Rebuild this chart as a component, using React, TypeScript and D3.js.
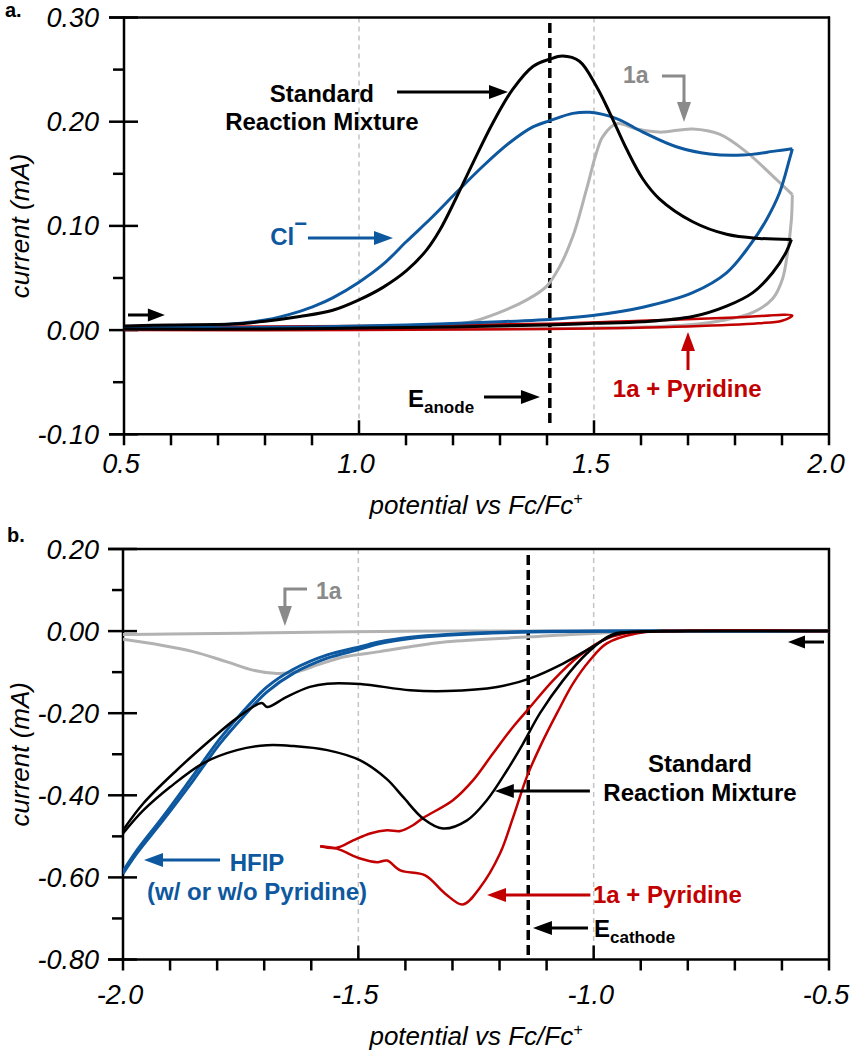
import React from "react";
import * as d3 from "d3";

// ---------- Panel a data (potential V vs Fc/Fc+, current mA) ----------
const aXTicks = [0.5, 1.0, 1.5, 2.0];
const aXMinor = [0.6, 0.7, 0.8, 0.9, 1.1, 1.2, 1.3, 1.4, 1.6, 1.7, 1.8, 1.9];
const aYTicks = [-0.1, 0.0, 0.1, 0.2, 0.3];
const aYMinor = [-0.05, 0.05, 0.15, 0.25];
const aXLabels = ["0.5", "1.0", "1.5", "2.0"];
const aYLabels = ["-0.10", "0.00", "0.10", "0.20", "0.30"];

const aStdFwd: [number, number][] = [[0.5,0.004],[0.6,0.005],[0.73,0.0058],[0.8,0.0085],[0.874,0.013],[0.944,0.019],[1.0,0.029],[1.051,0.041],[1.101,0.057],[1.144,0.077],[1.172,0.096],[1.207,0.127],[1.242,0.160],[1.285,0.199],[1.327,0.231],[1.370,0.253],[1.406,0.260],[1.433,0.263],[1.469,0.258],[1.505,0.234],[1.533,0.209],[1.569,0.174],[1.604,0.145],[1.639,0.126],[1.710,0.104],[1.782,0.092],[1.852,0.088],[1.92,0.087]];
const aStdRev: [number, number][] = [[1.92,0.087],[1.909,0.075],[1.880,0.055],[1.838,0.036],[1.782,0.023],[1.710,0.013],[1.604,0.008],[1.5,0.0065],[1.4,0.005],[1.2,0.003],[1.0,0.002],[0.8,0.001],[0.5,0.001]];
const aClFwd: [number, number][] = [[0.5,0.002],[0.6,0.003],[0.7,0.005],[0.8,0.0096],[0.874,0.018],[0.91,0.024],[0.944,0.031],[1.0,0.046],[1.051,0.063],[1.101,0.085],[1.157,0.109],[1.207,0.132],[1.263,0.157],[1.321,0.180],[1.370,0.195],[1.406,0.201],[1.455,0.208],[1.491,0.209],[1.548,0.203],[1.604,0.190],[1.675,0.176],[1.746,0.169],[1.816,0.168],[1.888,0.172],[1.922,0.174]];
const aClRev: [number, number][] = [[1.922,0.174],[1.916,0.164],[1.895,0.132],[1.867,0.106],[1.831,0.081],[1.782,0.055],[1.710,0.036],[1.604,0.022],[1.497,0.014],[1.427,0.011],[1.3,0.008],[1.1,0.005],[0.9,0.003],[0.7,0.002],[0.5,0.001]];
const a1aFwd: [number, number][] = [[0.5,0.002],[0.8,0.002],[1.0,0.002],[1.1,0.003],[1.229,0.007],[1.299,0.017],[1.357,0.029],[1.399,0.042],[1.427,0.061],[1.455,0.090],[1.484,0.135],[1.505,0.170],[1.519,0.186],[1.548,0.198],[1.591,0.193],[1.639,0.190],[1.710,0.193],[1.767,0.188],[1.824,0.171],[1.880,0.148],[1.922,0.130]];
const a1aRev: [number, number][] = [[1.922,0.130],[1.920,0.106],[1.912,0.075],[1.901,0.049],[1.880,0.030],[1.838,0.017],[1.782,0.010],[1.697,0.005],[1.5,0.002],[1.0,0.001],[0.5,0.001]];
const aPyrLoop: [number, number][] = [[0.5,0.003],[1.0,0.004],[1.4,0.006],[1.6,0.009],[1.8,0.012],[1.922,0.014],[1.90,0.009],[1.85,0.0065],[1.7,0.0035],[1.4,0.001],[1.0,0.0],[0.5,0.0]];
const aAnode = 1.406;

// ---------- Panel b data ----------
const bXTicks = [-2.0, -1.5, -1.0, -0.5];
const bXMinor = [-1.9, -1.8, -1.7, -1.6, -1.4, -1.3, -1.2, -1.1, -0.9, -0.8, -0.7, -0.6];
const bYTicks = [-0.8, -0.6, -0.4, -0.2, 0.0, 0.2];
const bYMinor = [-0.7, -0.5, -0.3, -0.1, 0.1];
const bXLabels = ["-2.0", "-1.5", "-1.0", "-0.5"];
const bYLabels = ["-0.80", "-0.60", "-0.40", "-0.20", "0.00", "0.20"];

const bStdFwd: [number, number][] = [[-0.5,0],[-0.8,0],[-0.9,-0.002],[-0.96,-0.008],[-1.014,-0.054],[-1.065,-0.12],[-1.114,-0.2],[-1.150,-0.274],[-1.184,-0.339],[-1.227,-0.412],[-1.269,-0.461],[-1.320,-0.481],[-1.362,-0.457],[-1.405,-0.404],[-1.44,-0.36],[-1.496,-0.315],[-1.566,-0.29],[-1.638,-0.28],[-1.694,-0.278],[-1.758,-0.29],[-1.830,-0.322],[-1.900,-0.38],[-1.957,-0.437],[-2.0,-0.493]];
const bStdRev: [number, number][] = [[-2.0,-0.485],[-1.957,-0.42],[-1.886,-0.339],[-1.815,-0.266],[-1.758,-0.212],[-1.705,-0.175],[-1.694,-0.185],[-1.652,-0.16],[-1.603,-0.136],[-1.566,-0.128],[-1.496,-0.129],[-1.39,-0.144],[-1.312,-0.146],[-1.205,-0.136],[-1.135,-0.115],[-1.065,-0.079],[-1.008,-0.042],[-0.959,-0.01],[-0.9,-0.001],[-0.8,0],[-0.5,0]];
const bPyrFwd: [number, number][] = [[-0.5,0],[-0.85,0],[-0.91,-0.006],[-0.972,-0.03],[-1.008,-0.071],[-1.044,-0.128],[-1.078,-0.2],[-1.114,-0.282],[-1.142,-0.355],[-1.171,-0.453],[-1.199,-0.542],[-1.241,-0.624],[-1.278,-0.666],[-1.316,-0.639],[-1.358,-0.595],[-1.411,-0.583],[-1.439,-0.559],[-1.46,-0.563],[-1.496,-0.554],[-1.546,-0.53],[-1.581,-0.524]];
const bPyrRev: [number, number][] = [[-1.581,-0.524],[-1.546,-0.528],[-1.511,-0.51],[-1.475,-0.493],[-1.439,-0.485],[-1.411,-0.487],[-1.384,-0.473],[-1.362,-0.455],[-1.299,-0.412],[-1.256,-0.363],[-1.214,-0.298],[-1.171,-0.233],[-1.135,-0.185],[-1.086,-0.12],[-1.029,-0.059],[-0.972,-0.018],[-0.916,-0.003],[-0.85,0],[-0.5,0]];
const b1aFwd: [number, number][] = [[-0.5,0],[-0.85,0],[-0.993,-0.005],[-1.135,-0.014],[-1.312,-0.026],[-1.39,-0.038],[-1.454,-0.05],[-1.532,-0.063],[-1.588,-0.083],[-1.631,-0.099],[-1.673,-0.103],[-1.724,-0.095],[-1.779,-0.075],[-1.851,-0.05],[-1.921,-0.034],[-2.0,-0.02]];
const b1aRev: [number, number][] = [[-2.0,-0.008],[-1.9,-0.007],[-1.75,-0.005],[-1.6,-0.003],[-1.45,-0.001],[-1.3,0],[-0.5,0]];
const bHfipFwd: [number, number][] = [[-0.5,0],[-0.9,0],[-1.135,-0.002],[-1.312,-0.01],[-1.39,-0.018],[-1.454,-0.03],[-1.496,-0.044],[-1.566,-0.066],[-1.638,-0.103],[-1.694,-0.148],[-1.745,-0.209],[-1.794,-0.274],[-1.851,-0.364],[-1.915,-0.461],[-1.971,-0.542],[-2.0,-0.591]];
const bHfipRev: [number, number][] = [[-2.0,-0.585],[-1.971,-0.535],[-1.915,-0.452],[-1.851,-0.352],[-1.794,-0.262],[-1.745,-0.196],[-1.694,-0.136],[-1.638,-0.093],[-1.566,-0.058],[-1.496,-0.038],[-1.454,-0.026],[-1.39,-0.015],[-1.312,-0.008],[-1.135,-0.001],[-0.9,0],[-0.5,0]];
const bCathode = -1.139;

const BLACK = "#000";
const BLUE = "#0d589e";
const RED = "#c20000";
const GRAYLINE = "#b2b2b2";
const GRAYTXT = "#8a8a8a";
const FONT = "'Liberation Sans', Arial, Helvetica, sans-serif";

function Arrow({ x1, y1, x2, y2, color, w = 3, hl = 19, hw = 14 }: any) {
  const dx = x2 - x1, dy = y2 - y1;
  const L = Math.hypot(dx, dy);
  const ux = dx / L, uy = dy / L;
  const bx = x2 - ux * hl, by = y2 - uy * hl;
  const px = -uy * hw / 2, py = ux * hw / 2;
  return (
    <g>
      <line x1={x1} y1={y1} x2={bx + ux * 2} y2={by + uy * 2} stroke={color} strokeWidth={w} />
      <polygon points={`${x2},${y2} ${bx + px},${by + py} ${bx - px},${by - py}`} fill={color} />
    </g>
  );
}

function Frame({ x, y, xt, xm, yt, ym, xl, yl, labelOff }: any) {
  const [x0, x1] = x.range();
  const yb = y(y.domain()[0]);
  const ytop = y(y.domain()[1]);
  const ax = 2.5;
  return (
    <g>
      {xt.slice(1, -1).map((v: number) => (
        <line key={"g" + v} x1={x(v)} x2={x(v)} y1={ytop} y2={yb} stroke="#c4c4c4" strokeWidth={1.5} strokeDasharray="5,4" />
      ))}
      <line x1={x0 - 15} x2={x1 + 1} y1={ytop} y2={ytop} stroke={BLACK} strokeWidth={ax} />
      <line x1={x0 - 15} x2={x1 + 1} y1={yb} y2={yb} stroke={BLACK} strokeWidth={ax} />
      <line x1={x0} x2={x0} y1={ytop - 1} y2={yb + 11} stroke={BLACK} strokeWidth={ax} />
      <line x1={x1} x2={x1} y1={ytop - 1} y2={yb + 11} stroke={BLACK} strokeWidth={ax} />
      {yt.map((v: number) => (
        <line key={"yt" + v} x1={x0 - 15} x2={x0 + 14} y1={y(v)} y2={y(v)} stroke={BLACK} strokeWidth={ax} />
      ))}
      {ym.map((v: number) => (
        <line key={"ym" + v} x1={x0 - 11} x2={x0} y1={y(v)} y2={y(v)} stroke={BLACK} strokeWidth={ax} />
      ))}
      {xt.slice(1, -1).map((v: number) => (
        <line key={"xt" + v} x1={x(v)} x2={x(v)} y1={yb} y2={yb - 14} stroke={BLACK} strokeWidth={ax} />
      ))}
      {xm.map((v: number) => (
        <line key={"xm" + v} x1={x(v)} x2={x(v)} y1={yb} y2={yb + 11} stroke={BLACK} strokeWidth={ax} />
      ))}
      {yt.map((v: number, i: number) => (
        <text key={"yl" + v} x={99} y={y(v) + 9.5} textAnchor="end" fontSize={27} fontStyle="italic" fontFamily={FONT}>{yl[i]}</text>
      ))}
      {xt.map((v: number, i: number) => (
        <text key={"xl" + v} x={x(v) - 3} y={yb + labelOff} textAnchor="middle" fontSize={27} fontStyle="italic" fontFamily={FONT}>{xl[i]}</text>
      ))}
      <text x={476} y={yb + labelOff + 41} textAnchor="middle" fontSize={26} fontStyle="italic" fontFamily={FONT}>
        potential vs Fc/Fc<tspan dy={-10} fontSize={16}>+</tspan>
      </text>
      <text transform={`translate(29,${(ytop + yb) / 2}) rotate(-90)`} textAnchor="middle" fontSize={26} fontStyle="italic" fontFamily={FONT}>current (mA)</text>
    </g>
  );
}

export default function App() {
  const ax = d3.scaleLinear().domain([0.5, 2.0]).range([124, 829]);
  const ay = d3.scaleLinear().domain([-0.1, 0.3]).range([434.3, 17.5]);
  const bx = d3.scaleLinear().domain([-2.0, -0.5]).range([123, 829]);
  const by = d3.scaleLinear().domain([-0.8, 0.2]).range([959.5, 549]);

  const lineA = d3.line<[number, number]>().x(d => ax(d[0])).y(d => ay(d[1])).curve(d3.curveCatmullRom.alpha(0.5));
  const lineB = d3.line<[number, number]>().x(d => bx(d[0])).y(d => by(d[1])).curve(d3.curveCatmullRom.alpha(0.5));

  const bold = { fontFamily: FONT, fontWeight: 700 as any, fontSize: 24 };
  const pa = (d: [number, number][], c: string, w: number) => (
    <path d={lineA(d) || ""} fill="none" stroke={c} strokeWidth={w} strokeLinejoin="round" clipPath="url(#clipA)" />
  );
  const pb = (d: [number, number][], c: string, w: number) => (
    <path d={lineB(d) || ""} fill="none" stroke={c} strokeWidth={w} strokeLinejoin="round" clipPath="url(#clipB)" />
  );

  return (
    <svg width={851} height={1050} style={{ position: "absolute", left: 0, top: 0, background: "#fff" }}>
      <defs>
        <clipPath id="clipA"><rect x={ax(0.5)} y={ay(0.3)} width={ax(2.0) - ax(0.5)} height={ay(-0.1) - ay(0.3)} /></clipPath>
        <clipPath id="clipB"><rect x={bx(-2.0)} y={by(0.2)} width={bx(-0.5) - bx(-2.0)} height={by(-0.8) - by(0.2)} /></clipPath>
      </defs>
      <rect width={851} height={1050} fill="#fff" />
      {/* ============ Panel a ============ */}
      <text x={5} y={17} fontFamily={FONT} fontWeight={700} fontSize={20}>a.</text>
      <Frame x={ax} y={ay} xt={aXTicks} xm={aXMinor} yt={aYTicks} ym={aYMinor} xl={aXLabels} yl={aYLabels} labelOff={39} />
      <line x1={ax(aAnode)} x2={ax(aAnode)} y1={ay(0.2947)} y2={ay(-0.0911)} stroke={BLACK} strokeWidth={3.5} strokeDasharray="10,5" />
      {pa(a1aFwd, GRAYLINE, 3)}
      {pa(a1aRev, GRAYLINE, 3)}
      {pa(aPyrLoop, RED, 2.5)}
      {pa(aClFwd, BLUE, 3)}
      {pa(aClRev, BLUE, 3)}
      {pa(aStdFwd, BLACK, 3)}
      {pa(aStdRev, BLACK, 3)}

      <Arrow x1={ax(0.5085)} y1={ay(0.0145)} x2={ax(0.587)} y2={ay(0.0145)} color={BLACK} hl={17} hw={13} />
      <text x={ax(0.921)} y={ay(0.2192)} textAnchor="middle" {...bold}>Standard</text>
      <text x={ax(0.921)} y={ay(0.192)} textAnchor="middle" {...bold}>Reaction Mixture</text>
      <Arrow x1={ax(1.081)} y1={ay(0.2285)} x2={ax(1.317)} y2={ay(0.2285)} color={BLACK} />
      <text x={ax(0.811)} y={ay(0.0817)} fill={BLUE} {...bold}>Cl<tspan dy={-14} fontSize={22}>−</tspan></text>
      <Arrow x1={ax(0.8915)} y1={ay(0.0884)} x2={ax(1.0723)} y2={ay(0.0884)} color={BLUE} />
      <text x={ax(1.5617)} y={ay(0.2371)} fill={GRAYTXT} {...bold} fontSize={23}>1a</text>
      <polyline points={`${ax(1.6447)},${ay(0.2439)} ${ax(1.6915)},${ay(0.2439)} ${ax(1.6915)},${ay(0.215)}`} fill="none" stroke={GRAYTXT} strokeWidth={3} />
      <Arrow x1={ax(1.6915)} y1={ay(0.22)} x2={ax(1.6915)} y2={ay(0.1997)} color={GRAYTXT} hl={20} hw={14} />
      <text x={ax(1.1043)} y={ay(-0.0738)} {...bold}>E<tspan dy={6} fontSize={17}>anode</tspan></text>
      <Arrow x1={ax(1.266)} y1={ay(-0.0642)} x2={ax(1.385)} y2={ay(-0.0642)} color={BLACK} />
      <text x={ax(1.54)} y={ay(-0.0642)} fill={RED} {...bold}>1a + Pyridine</text>
      <Arrow x1={ax(1.7)} y1={ay(-0.0383)} x2={ax(1.7)} y2={ay(-0.0018)} color={RED} />

      {/* ============ Panel b ============ */}
      <text x={7} y={542} fontFamily={FONT} fontWeight={700} fontSize={20}>b.</text>
      <Frame x={bx} y={by} xt={bXTicks} xm={bXMinor} yt={bYTicks} ym={bYMinor} xl={bXLabels} yl={bYLabels} labelOff={44} />
      <line x1={bx(bCathode)} x2={bx(bCathode)} y1={by(0.1854)} y2={by(-0.7939)} stroke={BLACK} strokeWidth={3.5} strokeDasharray="10,5" />
      {pb(b1aFwd, GRAYLINE, 3)}
      {pb(b1aRev, GRAYLINE, 3)}
      {pb(bHfipFwd, BLUE, 3)}
      {pb(bHfipRev, BLUE, 3)}
      {pb(bPyrFwd, RED, 2.5)}
      {pb(bPyrRev, RED, 2.5)}
      {pb(bStdFwd, BLACK, 2.5)}
      {pb(bStdRev, BLACK, 2.5)}

      <text x={bx(-1.59)} y={by(0.0782)} fill={GRAYTXT} {...bold} fontSize={23}>1a</text>
      <polyline points={`${bx(-1.609)},${by(0.1026)} ${bx(-1.656)},${by(0.1026)} ${bx(-1.656)},${by(0.05)}`} fill="none" stroke={GRAYTXT} strokeWidth={3} />
      <Arrow x1={bx(-1.656)} y1={by(0.06)} x2={bx(-1.656)} y2={by(0.0124)} color={GRAYTXT} hl={20} hw={14} />
      <Arrow x1={bx(-0.5106)} y1={by(-0.0266)} x2={bx(-0.5871)} y2={by(-0.0266)} color={BLACK} hl={17} hw={13} />
      <text x={bx(-0.774)} y={by(-0.343)} textAnchor="middle" {...bold}>Standard</text>
      <text x={bx(-0.774)} y={by(-0.414)} textAnchor="middle" {...bold}>Reaction Mixture</text>
      <Arrow x1={bx(-1.008)} y1={by(-0.3895)} x2={bx(-1.21)} y2={by(-0.3895)} color={BLACK} />
      <text x={bx(-1.0014)} y={by(-0.6624)} fill={RED} {...bold}>1a + Pyridine</text>
      <Arrow x1={bx(-1.007)} y1={by(-0.6429)} x2={bx(-1.2266)} y2={by(-0.6429)} color={RED} />
      <text x={bx(-0.9993)} y={by(-0.745)} {...bold}>E<tspan dy={6} fontSize={17}>cathode</tspan></text>
      <Arrow x1={bx(-1.012)} y1={by(-0.7233)} x2={bx(-1.129)} y2={by(-0.7233)} color={BLACK} />
      <text x={bx(-1.7153)} y={by(-0.5844)} textAnchor="middle" fill={BLUE} {...bold}>HFIP</text>
      <text x={bx(-1.7153)} y={by(-0.655)} textAnchor="middle" fill={BLUE} {...bold}>(w/ or w/o Pyridine)</text>
      <Arrow x1={bx(-1.7939)} y1={by(-0.5576)} x2={bx(-1.9554)} y2={by(-0.5576)} color={BLUE} />
    </svg>
  );
}
